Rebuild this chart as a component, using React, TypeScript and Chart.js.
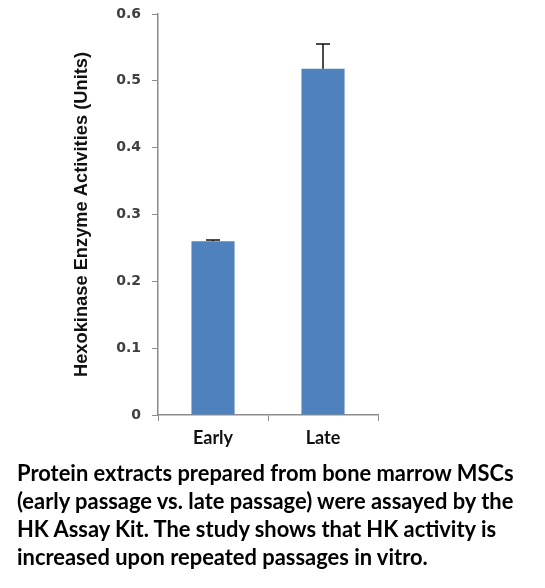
import React, { useEffect, useRef } from "react";
import { Chart, registerables } from "chart.js";

Chart.register(...registerables);

const categories = ["Early", "Late"];
const values = [0.26, 0.518];
const errors = [0.002, 0.037];
const yTicks = [0, 0.1, 0.2, 0.3, 0.4, 0.5, 0.6];
const yTitle = "Hexokinase Enzyme Activities (Units)";
const captionLines = [
  "Protein extracts prepared from bone marrow MSCs",
  "(early passage vs. late passage) were assayed by the",
  "HK Assay Kit. The study shows that HK activity is",
  "increased upon repeated passages in vitro.",
];

const errorBarPlugin = {
  id: "errorBars",
  afterDatasetsDraw(chart: any) {
    const ctx = chart.ctx;
    const meta = chart.getDatasetMeta(0);
    const yScale = chart.scales.y;
    ctx.save();
    ctx.strokeStyle = "#111";
    ctx.lineWidth = 1.5;
    meta.data.forEach((bar: any, i: number) => {
      const x = bar.x;
      const yTop = yScale.getPixelForValue(values[i] + errors[i]);
      const yBase = yScale.getPixelForValue(values[i]);
      ctx.beginPath();
      ctx.moveTo(x, yBase);
      ctx.lineTo(x, yTop);
      ctx.moveTo(x - 7, yTop);
      ctx.lineTo(x + 7, yTop);
      ctx.stroke();
    });
    ctx.restore();
  },
};

export default function App() {
  const ref = useRef<HTMLCanvasElement>(null);
  useEffect(() => {
    document.body.style.margin = "0";
    const chart = new Chart(ref.current!, {
      type: "bar",
      data: {
        labels: categories,
        datasets: [
          {
            data: values,
            backgroundColor: "#4F81BD",
            borderWidth: 0,
            barPercentage: 0.8,
            categoryPercentage: 0.49,
          },
        ],
      },
      options: {
        animation: false,
        responsive: false,
        layout: { padding: { top: 14, right: 167, bottom: 0, left: 0 } },
        plugins: { legend: { display: false }, tooltip: { enabled: false } },
        scales: {
          x: {
            afterFit: (s: any) => {
              s.height = 45;
              s.paddingLeft = 0;
              s.paddingRight = 0;
            },
            grid: {
              display: true,
              drawOnChartArea: false,
              drawTicks: true,
              tickLength: 6,
              color: "#8c8c8c",
              offset: true,
            },
            border: { display: true, color: "#8c8c8c", width: 1.5 },
            ticks: {
              color: "#111",
              font: { family: "Lato", size: 18, weight: "bold" },
              padding: 6,
            },
          },
          y: {
            min: 0,
            max: 0.6,
            afterFit: (s: any) => {
              s.width = 158;
              s.paddingTop = 0;
              s.paddingBottom = 0;
            },
            afterBuildTicks: (s: any) => {
              s.ticks = yTicks.map((v) => ({ value: v }));
            },
            grid: {
              display: true,
              drawOnChartArea: false,
              drawTicks: true,
              tickLength: 6,
              color: "#8c8c8c",
            },
            border: { display: true, color: "#8c8c8c", width: 1.5 },
            ticks: {
              color: "#404040",
              font: { family: "DejaVu Sans", size: 14, weight: "bold" },
              padding: 11,
              callback: (v: any) => (v === 0 ? "0" : Number(v).toFixed(1)),
            },
            title: {
              display: true,
              text: yTitle,
              color: "#111",
              font: { family: "Liberation Sans", size: 18.3, weight: "bold" },
              padding: { top: 71, bottom: 0 },
            },
          },
        },
      },
      plugins: [errorBarPlugin],
    });
    return () => chart.destroy();
  }, []);

  return (
    <div style={{ position: "relative", width: 545, height: 588, background: "#fff" }}>
      <canvas ref={ref} width={545} height={460} style={{ display: "block" }} />
      <div
        style={{
          position: "absolute",
          left: 17,
          top: 459,
          width: 528,
          fontFamily: "Lato",
          fontWeight: "bold",
          fontSize: 21.9,
          lineHeight: "28px",
          color: "#000",
          whiteSpace: "nowrap",
        }}
      >
        {captionLines.map((l, i) => (
          <div key={i}>{l}</div>
        ))}
      </div>
    </div>
  );
}
